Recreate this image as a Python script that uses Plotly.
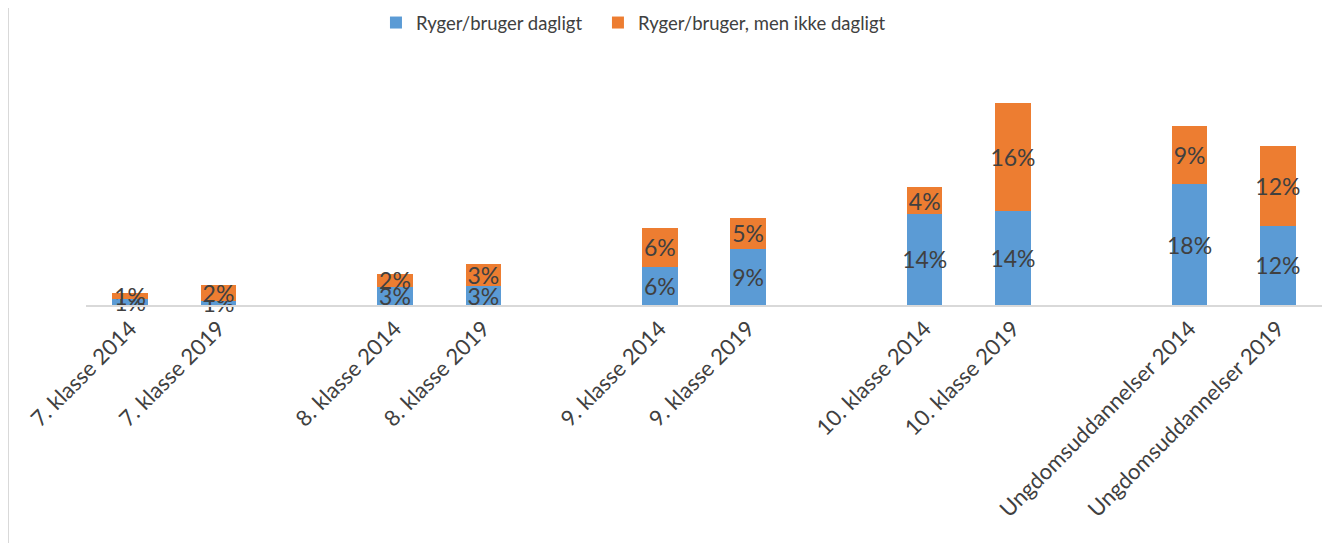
import plotly.graph_objects as go

categories = ["7. klasse 2014", "7. klasse 2019",
              "8. klasse 2014", "8. klasse 2019",
              "9. klasse 2014", "9. klasse 2019",
              "10. klasse 2014", "10. klasse 2019",
              "Ungdomsuddannelser 2014", "Ungdomsuddannelser 2019"]
slot_order = ["7. klasse 2014", "7. klasse 2019", " ",
              "8. klasse 2014", "8. klasse 2019", "  ",
              "9. klasse 2014", "9. klasse 2019", "   ",
              "10. klasse 2014", "10. klasse 2019", "    ",
              "Ungdomsuddannelser 2014", "Ungdomsuddannelser 2019"]
daily = [0.9, 0.6, 2.8, 2.9, 5.8, 8.6, 13.9, 14.4, 18.4, 12.1]
not_daily = [1.0, 2.4, 2.0, 3.3, 6.0, 4.7, 4.1, 16.4, 8.9, 12.1]
series_names = ["Ryger/bruger dagligt", "Ryger/bruger, men ikke dagligt"]
colors = ["#5B9BD5", "#ED7D31"]
legend_ids = ["legend", "legend2"]

FONT = "Lato"
TXT = "#404040"

fig = go.Figure()
for name, vals, col, lg in zip(series_names, [daily, not_daily], colors, legend_ids):
    fig.add_trace(go.Bar(
        x=categories, y=vals, name=name, legend=lg,
        marker=dict(color=col, line=dict(width=0)),
        text=[f"{v:.0f}%" for v in vals],
        textposition="inside", insidetextanchor="middle", textangle=0,
        constraintext="none", cliponaxis=False,
        textfont=dict(family=FONT, size=23, color=TXT),
        hoverinfo="skip",
    ))

leg_common = dict(orientation="h", y=1.151, yanchor="middle", xanchor="left",
                  font=dict(family=FONT, size=18.5, color=TXT), itemwidth=30,
                  bgcolor="rgba(0,0,0,0)")
fig.update_layout(
    barmode="stack", bargap=0.6,
    width=1338, height=543,
    margin=dict(l=78, r=24, t=52, b=246, autoexpand=False),
    paper_bgcolor="white", plot_bgcolor="white",
    font=dict(family=FONT, color=TXT),
    legend=dict(x=0.2346, **leg_common),
    legend2=dict(x=0.4142, **leg_common),
    showlegend=True,
)
fig.update_xaxes(type="category", categoryorder="array", categoryarray=slot_order,
                 tickangle=-45, tickfont=dict(family=FONT, size=22, color=TXT),
                 showline=True, linecolor="#d9d9d9", linewidth=2, automargin=False,
                 ticks="", showgrid=False, zeroline=False)
fig.update_yaxes(range=[0, 37.4], visible=False, showgrid=False, zeroline=False)
fig.add_shape(type="line", xref="paper", yref="paper",
              x0=-78/1236, x1=-78/1236, y0=-1.02, y1=1.22,
              line=dict(color="#d9d9d9", width=2))

fig.write_html("out.html")
